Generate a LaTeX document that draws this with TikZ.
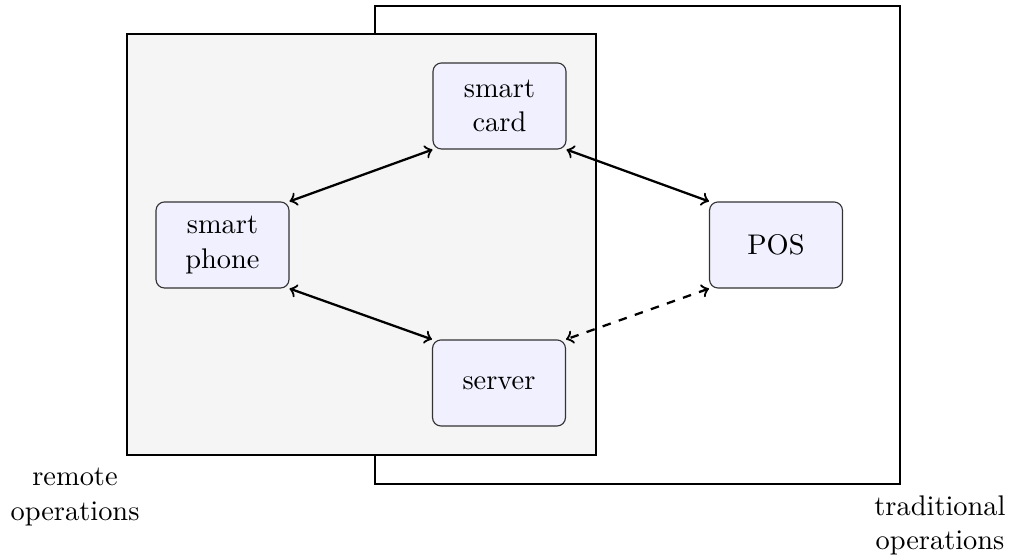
\documentclass[tikz,border=0pt]{standalone}
\begin{document}
\begin{tikzpicture}[x=0.352pt,y=-0.352pt,
  box/.style={draw=black!80, rounded corners=3pt, fill=blue!6, minimum width=46.8pt, minimum height=30.3pt, inner sep=0pt, align=center},
  link/.style={thick, <->},
  lbl/.style={align=center, inner sep=0pt}]
\useasboundingbox (0,0) rectangle (1024,558);
\draw (375,6) rectangle (900,484);
\draw[thick, fill=black!4] (127,34) rectangle (596,455);
\node[box] (card) at (499.5,106) {smart\\card};
\node[box] (phone) at (222.5,245) {smart\\phone};
\node[box] (pos) at (776,245) {POS};
\node[box] (server) at (499,383) {server};
\draw[link] (phone.north east) -- (card.south west);
\draw[link] (phone.south east) -- (server.north west);
\draw[link] (card.south east) -- (pos.north west);
\draw[link, dashed] (pos.south west) -- (server.north east);
\node[lbl] (remote) at (75,497) {remote\\operations};
\node[lbl] (trad) at (940,525) {traditional\\operations};
\end{tikzpicture}
\end{document}
